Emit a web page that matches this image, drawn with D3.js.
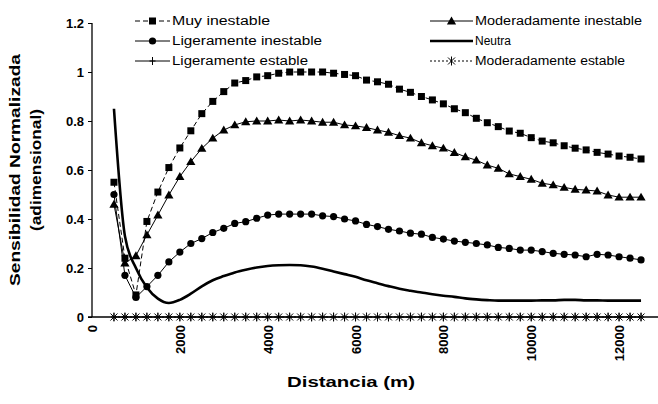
<!DOCTYPE html>
<html>
<head>
<meta charset="utf-8">
<script src="https://cdn.jsdelivr.net/npm/d3@7"></script>
<style>
  body { margin: 0; background: #fff; }
  svg { display: block; }
  text { font-family: "Liberation Sans", Arial, sans-serif; fill: #000; }
  .tick text { font-size: 13px; font-weight: bold; }
</style>
</head>
<body>
<div id="chart"></div>
<script>
// distance (m) of each computed point
const distancias = [500, 750, 1000, 1250, 1500, 1750, 2000, 2250, 2500, 2750, 3000, 3250, 3500, 3750,
  4000, 4250, 4500, 4750, 5000, 5250, 5500, 5750, 6000, 6250, 6500, 6750, 7000, 7250, 7500, 7750,
  8000, 8250, 8500, 8750, 9000, 9250, 9500, 9750, 10000, 10250, 10500, 10750, 11000, 11250, 11500,
  11750, 12000, 12250, 12500];

const muyInestable = [0.55, 0.24, 0.09, 0.39, 0.51, 0.61, 0.69, 0.76, 0.83, 0.88, 0.92, 0.955, 0.965, 0.98,
  0.985, 0.995, 1.0, 1.0, 1.0, 1.0, 0.995, 0.99, 0.985, 0.967, 0.96, 0.95, 0.93, 0.917, 0.90, 0.886,
  0.87, 0.85, 0.834, 0.811, 0.793, 0.777, 0.759, 0.75, 0.732, 0.718, 0.711, 0.699, 0.689, 0.682, 0.672,
  0.665, 0.657, 0.652, 0.645];

const modInestable = [0.46, 0.22, 0.25, 0.335, 0.416, 0.498, 0.573, 0.634, 0.688, 0.73, 0.763, 0.784, 0.797, 0.80,
  0.80, 0.804, 0.80, 0.804, 0.80, 0.795, 0.795, 0.784, 0.78, 0.773, 0.763, 0.754, 0.74, 0.73, 0.711, 0.699,
  0.689, 0.671, 0.654, 0.64, 0.62, 0.607, 0.584, 0.573, 0.562, 0.546, 0.539, 0.529, 0.521, 0.518, 0.514,
  0.498, 0.489, 0.489, 0.489];

const ligInestable = [0.50, 0.17, 0.08, 0.124, 0.17, 0.225, 0.265, 0.30, 0.32, 0.345, 0.362, 0.382, 0.389, 0.403,
  0.416, 0.42, 0.42, 0.42, 0.42, 0.413, 0.41, 0.40, 0.392, 0.378, 0.369, 0.358, 0.351, 0.342, 0.338, 0.325,
  0.318, 0.31, 0.305, 0.30, 0.294, 0.284, 0.28, 0.273, 0.273, 0.267, 0.26, 0.256, 0.253, 0.246, 0.256,
  0.253, 0.246, 0.24, 0.233];

const neutra = [0.85, 0.33, 0.20, 0.12, 0.075, 0.057, 0.07, 0.095, 0.125, 0.15, 0.167, 0.182, 0.193, 0.202,
  0.208, 0.211, 0.212, 0.211, 0.206, 0.197, 0.186, 0.175, 0.164, 0.15, 0.138, 0.126, 0.115, 0.107, 0.10, 0.093,
  0.087, 0.082, 0.076, 0.072, 0.069, 0.067, 0.067, 0.067, 0.067, 0.068, 0.068, 0.07, 0.07, 0.068, 0.068,
  0.067, 0.067, 0.067, 0.067];

const ligEstable = [0, 0, 0, 0, 0, 0, 0, 0, 0, 0, 0, 0, 0, 0, 0, 0, 0, 0, 0, 0, 0, 0, 0, 0, 0,
  0, 0, 0, 0, 0, 0, 0, 0, 0, 0, 0, 0, 0, 0, 0, 0, 0, 0, 0, 0, 0, 0, 0, 0];
const modEstable = [0, 0, 0, 0, 0, 0, 0, 0, 0, 0, 0, 0, 0, 0, 0, 0, 0, 0, 0, 0, 0, 0, 0, 0, 0,
  0, 0, 0, 0, 0, 0, 0, 0, 0, 0, 0, 0, 0, 0, 0, 0, 0, 0, 0, 0, 0, 0, 0, 0];

const xTicks = [0, 2000, 4000, 6000, 8000, 10000, 12000];
const yTicks = [0, 0.2, 0.4, 0.6, 0.8, 1, 1.2];

const series = [
  { name: "Muy inestable", values: muyInestable, marker: "square", dash: "5,3", width: 1 },
  { name: "Ligeramente inestable", values: ligInestable, marker: "circle", dash: null, width: 1 },
  { name: "Ligeramente estable", values: ligEstable, marker: "plus", dash: null, width: 1 },
  { name: "Moderadamente inestable", values: modInestable, marker: "triangle", dash: null, width: 1 },
  { name: "Neutra", values: neutra, marker: null, dash: null, width: 2.6 },
  { name: "Moderadamente estable", values: modEstable, marker: "star", dash: "2,2", width: 1 }
];

const width = 658, height = 404;
const svg = d3.select("#chart").append("svg")
  .attr("width", width)
  .attr("height", height);

const x = d3.scaleLinear().domain([0, 13000]).range([92, 663]);
const y = d3.scaleLinear().domain([0, 1.2]).range([317, 23]);

// axes
const yAxis = d3.axisLeft(y).tickValues(yTicks).tickSize(4).tickPadding(4)
  .tickFormat(d => d);
svg.append("g").attr("class", "y axis")
  .attr("transform", `translate(${x(0)},0)`)
  .call(yAxis)
  .call(g => g.select(".domain").attr("d", `M0,${y(1.2)}V${y(0)}`).attr("stroke-width", 1.3));

const xAxis = d3.axisBottom(x).tickValues(xTicks).tickSize(0).tickFormat(d => d);
svg.append("g").attr("class", "x axis")
  .attr("transform", `translate(0,${y(0)})`)
  .call(xAxis)
  .call(g => g.select(".domain").attr("d", `M${x(0) - 4},0H${width}`).attr("stroke-width", 1.3))
  .call(g => g.selectAll(".tick text")
    .attr("transform", "rotate(-90)")
    .attr("x", -8).attr("y", 0).attr("dy", "0.35em")
    .attr("text-anchor", "end"));

// marker shapes
function drawMarker(sel, type) {
  if (type === "square") {
    sel.append("rect").attr("x", -3.5).attr("y", -3.5).attr("width", 7).attr("height", 7).attr("fill", "#000");
  } else if (type === "circle") {
    sel.append("circle").attr("r", 3.6).attr("fill", "#000");
  } else if (type === "triangle") {
    sel.append("path").attr("d", "M0,-4.5L4.6,3.4L-4.6,3.4Z").attr("fill", "#000");
  } else if (type === "plus") {
    sel.append("path").attr("d", "M-3,0H3M0,-4V4").attr("stroke", "#000").attr("stroke-width", 1);
  } else if (type === "star") {
    sel.append("path").attr("d", "M-3.5,-3.5L3.5,3.5M-3.5,3.5L3.5,-3.5M0,-4.5V4.5")
      .attr("stroke", "#000").attr("stroke-width", 1).attr("fill", "none");
  }
}

const line = d3.line().x(d => x(d[0])).y(d => y(d[1]));
const lineNeutra = d3.line().x(d => x(d[0])).y(d => y(d[1])).curve(d3.curveMonotoneX);

const plot = svg.append("g").attr("class", "series");
series.forEach(s => {
  const pts = distancias.map((d, i) => [d, s.values[i]]);
  plot.append("path")
    .attr("d", (s.marker ? line : lineNeutra)(pts))
    .attr("fill", "none")
    .attr("stroke", "#000")
    .attr("stroke-width", s.width)
    .attr("stroke-dasharray", s.dash);
  if (s.marker) {
    pts.forEach(p => {
      const g = plot.append("g").attr("transform", `translate(${x(p[0])},${y(p[1])})`);
      drawMarker(g, s.marker);
    });
  }
});

// legend
const legendPos = [
  { lx: 135, tx: 172, y: 21, len: 98 },
  { lx: 135, tx: 172, y: 41, len: 150 },
  { lx: 135, tx: 172, y: 61, len: 136 },
  { lx: 430, tx: 475, y: 21, len: 167 },
  { lx: 430, tx: 475, y: 41, len: 36 },
  { lx: 430, tx: 475, y: 61, len: 150 }
];
const legend = svg.append("g").attr("class", "legend");
series.forEach((s, i) => {
  const p = legendPos[i];
  const g = legend.append("g");
  g.append("line")
    .attr("x1", p.lx).attr("x2", p.tx - 2)
    .attr("y1", p.y).attr("y2", p.y)
    .attr("stroke", "#000")
    .attr("stroke-width", s.width)
    .attr("stroke-dasharray", s.dash);
  if (s.marker) {
    const m = g.append("g").attr("transform", `translate(${(p.lx + p.tx - 2) / 2},${p.y})`);
    drawMarker(m, s.marker);
  }
  g.append("text")
    .attr("x", p.tx).attr("y", p.y)
    .attr("dy", "0.35em")
    .attr("font-size", 12.5)
    .attr("textLength", p.len)
    .attr("lengthAdjust", "spacingAndGlyphs")
    .text(s.name);
});

// axis titles
svg.append("text")
  .attr("x", 351).attr("y", 387)
  .attr("text-anchor", "middle")
  .attr("font-size", 14).attr("font-weight", "bold")
  .attr("textLength", 128).attr("lengthAdjust", "spacingAndGlyphs")
  .text("Distancia (m)");

svg.append("text")
  .attr("transform", "translate(20,170) rotate(-90)")
  .attr("text-anchor", "middle")
  .attr("font-size", 14).attr("font-weight", "bold")
  .attr("textLength", 232).attr("lengthAdjust", "spacingAndGlyphs")
  .text("Sensibilidad Normalizada");

svg.append("text")
  .attr("transform", "translate(41,170) rotate(-90)")
  .attr("text-anchor", "middle")
  .attr("font-size", 14).attr("font-weight", "bold")
  .attr("textLength", 122).attr("lengthAdjust", "spacingAndGlyphs")
  .text("(adimensional)");
</script>
</body>
</html>
